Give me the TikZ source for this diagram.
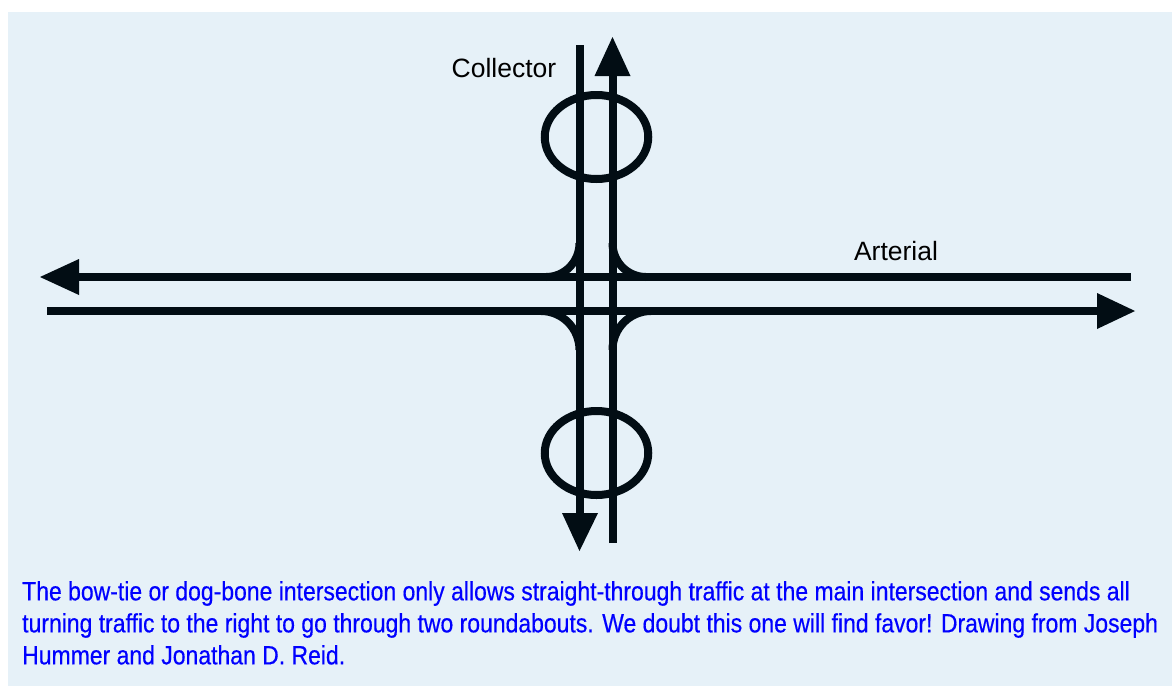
\documentclass[tikz,border=0pt]{standalone}
\usepackage{fontspec}
\setmainfont{Liberation Sans}
\newfontfamily\capfont[FakeStretch=0.87,FakeBold=0.4]{Liberation Sans}
\usetikzlibrary{arrows.meta,shapes.geometric}
\definecolor{bgblue}{HTML}{E6F1F8}
\definecolor{roadink}{HTML}{020D14}
\tikzset{
  x=1pt,y=-1pt,
  road/.style={draw=roadink,line width=8pt,line cap=butt},
  tip/.style={fill=roadink,draw=none},
  ring/.style={draw=roadink,line width=8pt,ellipse,minimum width=103.5pt,minimum height=84pt,inner sep=0pt,outer sep=0pt},
  lbl/.style={inner sep=0pt,font=\fontsize{26.5}{30}\selectfont,text=black},
  capt/.style={inner sep=0pt,anchor=north west,align=left,text=blue,font=\capfont\fontsize{26.4}{32}\selectfont}
}
\begin{document}
\begin{tikzpicture}
\useasboundingbox (0,0) rectangle (1172,686);
\fill[white] (0,0) rectangle (1172,686);
\fill[bgblue] (8,12) rectangle (1172,686);
% free ends
\coordinate (wA) at (70,277); \coordinate (eA) at (1131,277);
\coordinate (wB) at (47,311); \coordinate (eB) at (1100,311);
\coordinate (nL) at (579.5,45); \coordinate (sL) at (579.5,520);
\coordinate (nR) at (612.5,70); \coordinate (sR) at (612.5,543);
\draw[road] (eA) -- (wA);
\draw[road] (wB) -- (eB);
\draw[road] (nL) -- (sL);
\draw[road] (sR) -- (nR);
\fill[tip] (40,277) -- (79,259) -- (79,295) -- cycle;
\fill[tip] (1135,311) -- (1097,293) -- (1097,329) -- cycle;
\fill[tip] (612.5,37) -- (594.5,76) -- (630.5,76) -- cycle;
\fill[tip] (579.5,551) -- (562,513) -- (598,513) -- cycle;
\node[ring] (rn) at (596.5,137) {};
\node[ring] (rs) at (596.5,453) {};
\coordinate (a1) at (579.5,243); \coordinate (a2) at (546,277);
\coordinate (b1) at (612.5,243); \coordinate (b2) at (646,277);
\coordinate (c1) at (579.5,350); \coordinate (c2) at (541,311);
\coordinate (d1) at (612.5,350); \coordinate (d2) at (651,311);
\draw[road] (a1) .. controls +(0,18.7) and +(18.7,0) .. (a2);
\draw[road] (b1) .. controls +(0,18.7) and +(-18.7,0) .. (b2);
\draw[road] (c1) .. controls +(0,-21.4) and +(21.4,0) .. (c2);
\draw[road] (d1) .. controls +(0,-21.4) and +(-21.4,0) .. (d2);
\node[lbl] (coll) at (504,68) {Collector};
\node[lbl] (art) at (896,251) {Arterial};
\node[capt] (cap) at (22,581) {The bow-tie or dog-bone intersection only allows straight-through traffic at the main intersection and sends all\\turning traffic to the right to go through two roundabouts. We doubt this one will find favor! Drawing from Joseph\\Hummer and Jonathan D. Reid.};
\end{tikzpicture}
\end{document}
